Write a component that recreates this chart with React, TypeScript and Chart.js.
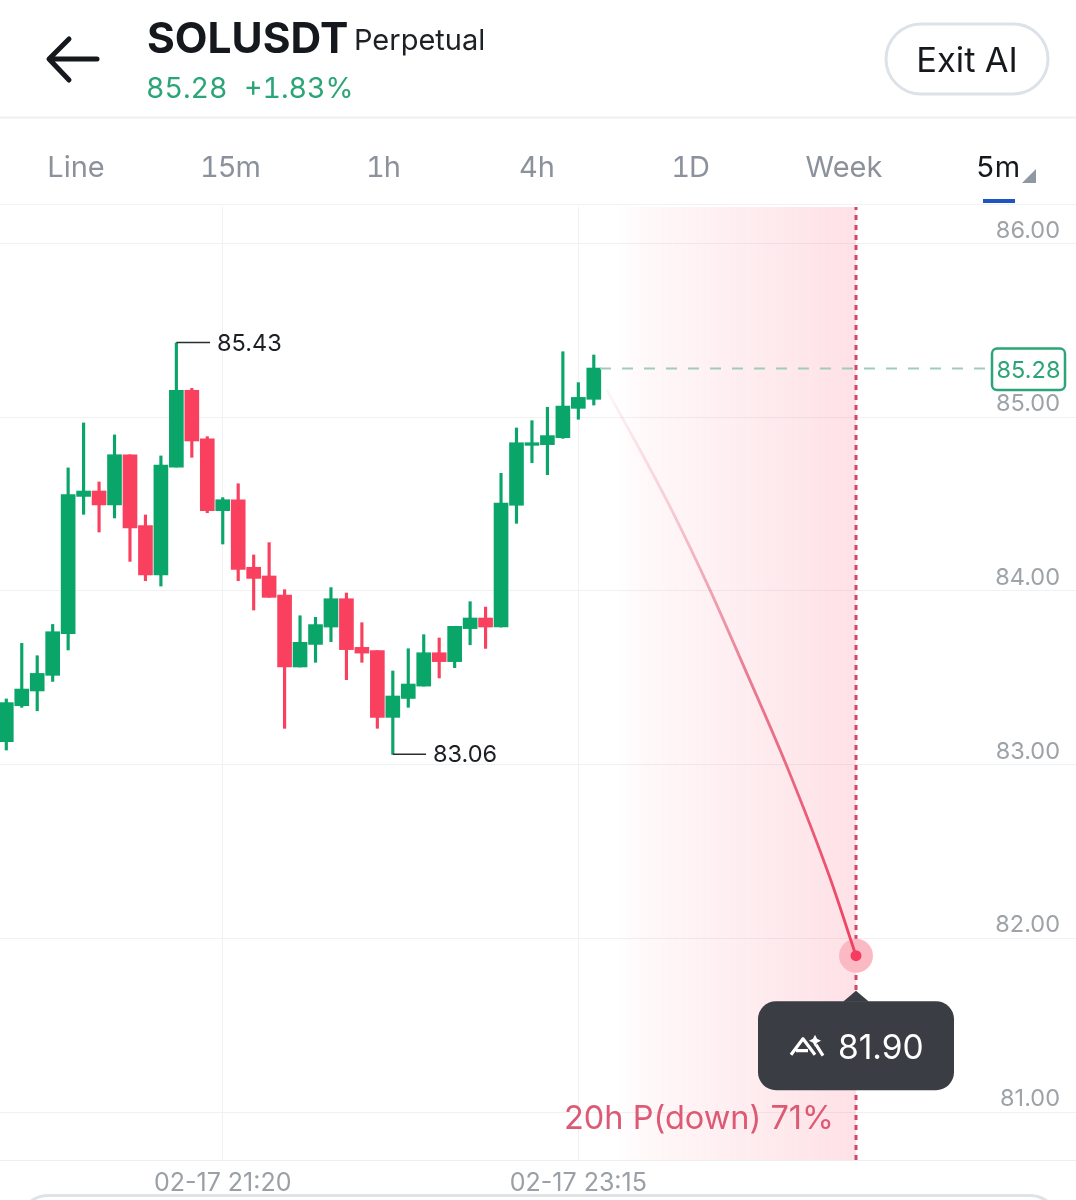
import React, { useEffect, useRef } from "react";
import { Chart, registerables } from "chart.js";

Chart.register(...registerables);

// Candle values, oldest to newest (index = candle number on the x axis)
const opens = [83.132,83.339,83.424,83.514,83.754,84.544,84.575,84.495,84.784,84.376,84.092,84.713,85.155,84.876,84.462,84.525,84.136,84.086,83.976,83.562,83.692,83.792,83.955,83.675,83.656,83.272,83.381,83.452,83.644,83.593,83.783,83.844,83.792,84.493,84.838,84.842,84.882,85.051,85.103];
const highs = [83.378,83.698,83.627,83.807,84.708,84.967,84.627,84.898,84.784,84.437,84.777,85.427,85.166,84.888,84.537,84.617,84.207,84.278,84.007,83.857,83.848,84.019,83.988,83.817,83.656,83.539,83.667,83.748,83.729,83.796,83.938,83.907,84.677,84.938,84.980,85.057,85.377,85.199,85.358];
const lows = [83.084,83.330,83.310,83.479,83.660,84.441,84.339,84.420,84.170,84.059,84.028,84.713,84.769,84.450,84.270,84.059,83.890,83.963,83.209,83.562,83.589,83.708,83.489,83.589,83.209,83.059,83.330,83.452,83.499,83.558,83.690,83.669,83.792,84.389,84.738,84.669,84.878,84.988,85.070];
const closes = [83.357,83.435,83.525,83.765,84.554,84.575,84.495,84.784,84.362,84.092,84.725,85.155,84.863,84.462,84.525,84.124,84.072,83.963,83.562,83.704,83.806,83.955,83.662,83.642,83.272,83.395,83.464,83.644,83.593,83.796,83.844,83.792,84.506,84.853,84.853,84.894,85.064,85.114,85.283];

// Forecast curve
const forecastX = [38.84,40.99,43.14,45.52,47.78,50.48,53.28,54.96];
const forecastY = [85.157,84.811,84.448,84.005,83.55,82.992,82.347,81.9];

const priceTicks = [86, 85, 84, 83, 82, 81];
const timeTickIndex = [14, 37];
const timeTickLabels = ["02-17 21:20", "02-17 23:15"];
const tabs = ["Line", "15m", "1h", "4h", "1D", "Week", "5m"];

const symbol = "SOLUSDT";
const contractType = "Perpetual";
const lastPrice = 85.28;
const changeText = "+1.83%";
const highMark = { index: 11, value: 85.43, label: "85.43", leaderEnd: 13.18 };
const lowMark = { index: 25, value: 83.06, label: "83.06", leaderEnd: 27.15 };
const forecast = { index: 54.96, value: 81.9, label: "81.90", note: "20h P(down) 71%" };

const xMin = -0.4075;
const xMax = 69.19;
const yMin = 80.724;
const yMax = 86.21;
const bandStart = 39.4;
const priceLineStart = 38.4;
const priceLineEnd = 63.6;

const GREEN = "#0aa568";
const RED = "#f9405f";
const FONT = "Inter";

const overlayPlugin = {
  id: "overlay",
  beforeDatasetsDraw(chart: any) {
    const { ctx, scales, chartArea } = chart;
    const x0 = scales.x.getPixelForValue(bandStart);
    const x1 = scales.x.getPixelForValue(forecast.index);
    const g = ctx.createLinearGradient(x0, 0, x1, 0);
    g.addColorStop(0, "rgba(248,64,95,0)");
    g.addColorStop(0.12, "rgba(248,64,95,0.035)");
    g.addColorStop(1, "rgba(248,64,95,0.155)");
    ctx.save();
    ctx.fillStyle = g;
    ctx.fillRect(x0, chartArea.top, x1 - x0, chartArea.bottom - chartArea.top);
    ctx.restore();
  },
  afterDraw(chart: any) {
    const { ctx, scales } = chart;
    const px = (v: number) => scales.x.getPixelForValue(v);
    const py = (v: number) => scales.y.getPixelForValue(v);
    ctx.save();
    ctx.textBaseline = "middle";

    // high / low labels
    ctx.fillStyle = "#1c1f23";
    ctx.font = `23.5px ${FONT}`;
    ctx.textAlign = "left";
    ctx.fillText(highMark.label, px(highMark.leaderEnd) + 7, py(highMark.value) + 1);
    ctx.fillText(lowMark.label, px(lowMark.leaderEnd) + 7, py(lowMark.value) + 1);

    // last price tag
    const tagY = py(lastPrice);
    ctx.fillStyle = "#ffffff";
    ctx.strokeStyle = "#2ba577";
    ctx.lineWidth = 2.5;
    ctx.beginPath();
    ctx.roundRect(992, tagY - 20, 73, 41.5, 5);
    ctx.fill();
    ctx.stroke();
    ctx.fillStyle = "#2ba577";
    ctx.font = `23.5px ${FONT}`;
    ctx.textAlign = "center";
    ctx.fillText(lastPrice.toFixed(2), 1028.5, tagY + 2.5);

    // forecast bubble
    const bx = px(forecast.index);
    const by = py(forecast.value);
    ctx.fillStyle = "#3a3d43";
    ctx.beginPath();
    ctx.roundRect(758, by + 45.5, 196, 89, 18);
    ctx.fill();
    ctx.beginPath();
    ctx.moveTo(bx - 13, by + 46);
    ctx.lineTo(bx, by + 35);
    ctx.lineTo(bx + 13, by + 46);
    ctx.closePath();
    ctx.fill();

    // bubble icon
    ctx.strokeStyle = "#ffffff";
    ctx.lineWidth = 3.2;
    ctx.lineJoin = "round";
    ctx.beginPath();
    ctx.moveTo(791, by + 99);
    ctx.lineTo(803, by + 83);
    ctx.lineTo(815, by + 99);
    ctx.moveTo(796, by + 95);
    ctx.lineTo(808, by + 95);
    ctx.moveTo(816, by + 89);
    ctx.lineTo(823, by + 100);
    ctx.stroke();
    ctx.fillStyle = "#ffffff";
    ctx.beginPath();
    ctx.moveTo(815, by + 79);
    ctx.lineTo(817, by + 83);
    ctx.lineTo(821, by + 85);
    ctx.lineTo(817, by + 87);
    ctx.lineTo(815, by + 91);
    ctx.lineTo(813, by + 87);
    ctx.lineTo(809, by + 85);
    ctx.lineTo(813, by + 83);
    ctx.closePath();
    ctx.fill();

    ctx.fillStyle = "#ffffff";
    ctx.font = `33.5px ${FONT}`;
    ctx.textAlign = "left";
    ctx.fillText(forecast.label, 838, by + 93);

    // probability note
    ctx.fillStyle = "#dc5a74";
    ctx.font = `32.5px ${FONT}`;
    ctx.textAlign = "right";
    ctx.fillText(forecast.note, 834, 1119);
    ctx.restore();
  },
};

function Text({ x, y, size, color, weight = 400, align = "left", spacing = 0, children }: any) {
  const tx = align === "center" ? "translate(-50%,-50%)" : "translateY(-50%)";
  return (
    <span
      style={{
        position: "absolute",
        left: x,
        top: y,
        transform: tx,
        fontFamily: `${FONT}, sans-serif`,
        fontSize: size,
        fontWeight: weight,
        fontVariantNumeric: "tabular-nums",
        letterSpacing: spacing,
        color,
        lineHeight: 1,
        whiteSpace: "nowrap",
      }}
    >
      {children}
    </span>
  );
}

export default function App() {
  const ref = useRef<HTMLCanvasElement>(null);

  useEffect(() => {
    if (!ref.current) return;
    const indices = opens.map((_, i) => i);
    const isUp = (i: number) => closes[i] >= opens[i];
    const candleColors = indices.map((i) => (isUp(i) ? GREEN : RED));

    const chart = new Chart(ref.current, {
      type: "bar",
      data: {
        datasets: [
          {
            type: "line",
            label: "Forecast marker",
            data: [{ x: forecast.index, y: forecast.value }],
            showLine: false,
            pointRadius: 5.5,
            pointBackgroundColor: "#f53e5f",
            pointBorderWidth: 0,
            order: 0,
          },
          {
            type: "line",
            label: "Forecast path",
            data: forecastX.map((x, i) => ({ x, y: forecastY[i] })),
            pointRadius: 0,
            borderWidth: 2.8,
            cubicInterpolationMode: "monotone",
            borderColor: (c: any) => {
              const { chart: ch } = c;
              if (!ch.chartArea) return RED;
              const top = ch.scales.y.getPixelForValue(forecastY[0]);
              const bottom = ch.scales.y.getPixelForValue(forecast.value);
              const g = ch.ctx.createLinearGradient(0, top, 0, bottom);
              g.addColorStop(0, "rgba(224,80,110,0.06)");
              g.addColorStop(0.2, "rgba(224,80,110,0.24)");
              g.addColorStop(0.5, "rgba(224,76,106,0.7)");
              g.addColorStop(1, "rgba(240,62,95,1)");
              return g;
            },
            order: 1,
          },
          {
            type: "line",
            label: "Forecast halo",
            data: [{ x: forecast.index, y: forecast.value }],
            showLine: false,
            pointRadius: 17,
            pointBackgroundColor: "#fbb9c3",
            pointBorderWidth: 0,
            order: 2,
          },
          {
            type: "line",
            label: "Forecast time",
            data: [
              { x: forecast.index, y: yMin },
              { x: forecast.index, y: yMax },
            ],
            pointRadius: 0,
            borderWidth: 3,
            borderColor: "#cd4a69",
            borderDash: [5, 5],
            order: 3,
          },
          {
            type: "line",
            label: "Last price",
            data: [
              { x: priceLineStart, y: lastPrice },
              { x: priceLineEnd, y: lastPrice },
            ],
            pointRadius: 0,
            borderWidth: 2,
            borderColor: "#a0cdb8",
            borderDash: [11, 11],
            order: 4,
          },
          {
            type: "line",
            label: "High leader",
            data: [
              { x: highMark.index, y: highMark.value },
              { x: highMark.leaderEnd, y: highMark.value },
            ],
            pointRadius: 0,
            borderWidth: 1.6,
            borderColor: "#2a2e33",
            order: 5,
          },
          {
            type: "line",
            label: "Low leader",
            data: [
              { x: lowMark.index, y: lowMark.value },
              { x: lowMark.leaderEnd, y: lowMark.value },
            ],
            pointRadius: 0,
            borderWidth: 1.6,
            borderColor: "#2a2e33",
            order: 5,
          },
          {
            label: "Body",
            data: indices.map((i) => ({ x: i, y: [opens[i], closes[i]] })),
            backgroundColor: candleColors,
            barThickness: 14,
            grouped: false,
            order: 6,
          },
          {
            label: "Wick",
            data: indices.map((i) => ({ x: i, y: [lows[i], highs[i]] })),
            backgroundColor: candleColors,
            barThickness: 2.5,
            grouped: false,
            order: 7,
          },
        ] as any,
      },
      options: {
        animation: false,
        responsive: false,
        events: [],
        layout: { autoPadding: false, padding: { top: 207, left: 0, right: 0, bottom: 0 } },
        plugins: { legend: { display: false }, tooltip: { enabled: false } },
        scales: {
          x: {
            type: "linear",
            min: xMin,
            max: xMax,
            offset: false,
            afterBuildTicks: (s: any) => {
              s.ticks = timeTickIndex.map((value) => ({ value }));
            },
            afterFit: (s: any) => {
              s.height = 40;
              s.paddingLeft = 0;
              s.paddingRight = 0;
            },
            ticks: {
              autoSkip: false,
              maxRotation: 0,
              padding: 8,
              color: "#9aa0a6",
              font: { family: FONT, size: 25 },
              callback: (v: any) => timeTickLabels[timeTickIndex.indexOf(v)] ?? "",
            },
            border: { display: true, color: "#eceef0", width: 1 },
            grid: { color: "#f0f1f3", lineWidth: 1, drawTicks: false, offset: false },
          },
          y: {
            type: "linear",
            position: "right",
            min: yMin,
            max: yMax,
            afterBuildTicks: (s: any) => {
              s.ticks = priceTicks.map((value) => ({ value }));
            },
            afterFit: (s: any) => {
              s.width = 0;
              s.paddingTop = 0;
              s.paddingBottom = 0;
            },
            ticks: {
              mirror: true,
              padding: -16,
              labelOffset: -13,
              color: "#9ea3a8",
              font: { family: FONT, size: 23.5 },
              callback: (v: any) => Number(v).toFixed(2),
            },
            border: { display: false },
            grid: { color: "#f0f1f3", lineWidth: 1, drawTicks: false },
          },
        },
      } as any,
      plugins: [overlayPlugin],
    });
    return () => chart.destroy();
  }, []);

  const tabCenters = [76, 230, 383, 537, 690, 844, 998];

  return (
    <div
      style={{
        position: "absolute",
        left: 0,
        top: 0,
        width: 1076,
        height: 1200,
        overflow: "hidden",
        background: "#ffffff",
      }}
    >
      <canvas ref={ref} width={1076} height={1200} style={{ position: "absolute", left: 0, top: 0, display: "block" }} />

      <svg width={1076} height={210} style={{ position: "absolute", left: 0, top: 0 }}>
        <path d="M97 59H51M69 39L49 59L69 80" fill="none" stroke="#15181c" strokeWidth={5} strokeLinecap="round" strokeLinejoin="round" />
        <rect x={0} y={116.5} width={1076} height={2} fill="#eef0f2" />
        <rect x={0} y={204} width={1076} height={1} fill="#f1f2f4" />
        <rect x={886} y={24} width={162} height={70} rx={35} fill="#fff" stroke="#dde2e8" strokeWidth={3} />
        <rect x={983} y={199} width={32} height={4} fill="#1f55c0" />
        <path d="M1036 169V183H1022Z" fill="#8f97a3" />
      </svg>

      <Text x={147} y={38} size={42.5} weight={700} color="#15181c">{symbol}</Text>
      <Text x={354} y={39} size={29} color="#1d2024">{contractType}</Text>
      <Text x={146} y={88} size={28.5} color="#2ba577">{lastPrice.toFixed(2)}</Text>
      <Text x={244} y={88} size={28.5} color="#2ba577">{changeText}</Text>
      <Text x={967} y={60} size={34.5} align="center" color="#15181c">Exit AI</Text>
      {tabs.map((t, i) => (
        <Text
          key={t}
          x={tabCenters[i]}
          y={166}
          size={29}
          align="center"
          spacing={t.includes("1") ? -1 : 0}
          color={t === "5m" ? "#15181c" : "#8b929c"}
        >
          {t}
        </Text>
      ))}

      <div
        style={{
          position: "absolute",
          left: 18,
          top: 1194,
          width: 1036,
          height: 60,
          border: "3px solid #dfe3e6",
          borderRadius: 30,
          background: "#fff",
        }}
      />
    </div>
  );
}
